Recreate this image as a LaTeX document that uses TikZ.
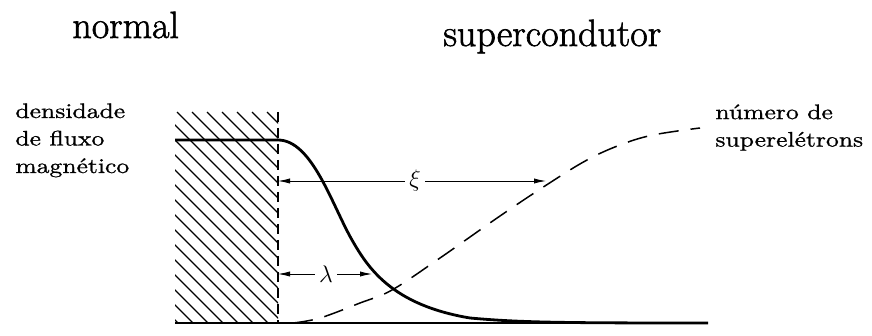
\documentclass[tikz,border=0pt]{standalone}
\usepackage{fontspec}
\newfontfamily\lblfont[FakeStretch=1.22,FakeBold=1]{Latin Modern Roman}
\newfontfamily\ttlfont[FakeBold=1.6]{Latin Modern Roman}
\usetikzlibrary{arrows.meta,positioning,calc}

\begin{document}
\begin{tikzpicture}[x=0.5pt,y=-0.5pt,>={Latex[length=6pt,width=2.6pt]},
  title/.style={font=\ttlfont\fontsize{19}{22}\selectfont,anchor=base west,inner sep=0pt},
  lbl/.style={font=\lblfont\fontsize{10.5}{13.75}\selectfont,align=left,anchor=north west,inner sep=0pt},
  greek/.style={font=\fontsize{13}{15}\selectfont,inner sep=2pt},
  flux/.style={line width=1.4pt,line join=round},
  supel/.style={line width=0.75pt,dash pattern=on 10pt off 6pt},
  wall/.style={line width=0.6pt,dash pattern=on 5pt off 3pt},
  dim/.style={->,line width=0.45pt}]
  \useasboundingbox (0,0) rectangle (872,336);
  \node[title] (nor) at (72,38) {normal};
  \node[title] (sup) at (443,46) {supercondutor};
  \node[lbl] (dens) at (15,103) {densidade\\de fluxo\\magnético};
  \node[lbl] (nsup) at (715,104) {número de\\superelétrons};
  \begin{scope}
    \clip (175,112) rectangle (278,323);
    \foreach \k in {-15,...,7}
      \draw[line width=0.7pt] (177+15*\k,112) -- ++(220,220);
  \end{scope}
  \coordinate (wt) at (278,112);
  \coordinate (wb) at (278,323);
  \coordinate (ax) at (708,323);
  \draw[wall] (wt) -- (wb);
  \draw[line width=0.6pt] (175,323) -- (ax);
  \draw[flux] (175,140) -- (278,140) .. controls (312,140) and (332,205) .. (352,240)
    .. controls (368,268) and (392,305) .. (470,318) .. controls (520,322.5) and (560,323) .. (ax);
  \draw[supel] plot[smooth,tension=0.6] coordinates {(293,323) (320,318) (360,303) (392,290)
    (440,258) (500,216) (548,184) (587,160) (620,145) (653,135) (700,128)};
  \node[greek] (xi) at (415,181) {$\xi$};
  \node[greek] (la) at (326,274) {$\lambda$};
  \coordinate (xil) at (278,181);
  \coordinate (xir) at (546,181);
  \coordinate (lal) at (278,274);
  \coordinate (lar) at (372,274);
  \draw[dim] (xi) -- (xil);
  \draw[dim] (xi) -- (xir);
  \draw[dim] (la) -- (lal);
  \draw[dim] (la) -- (lar);
\end{tikzpicture}
\end{document}
